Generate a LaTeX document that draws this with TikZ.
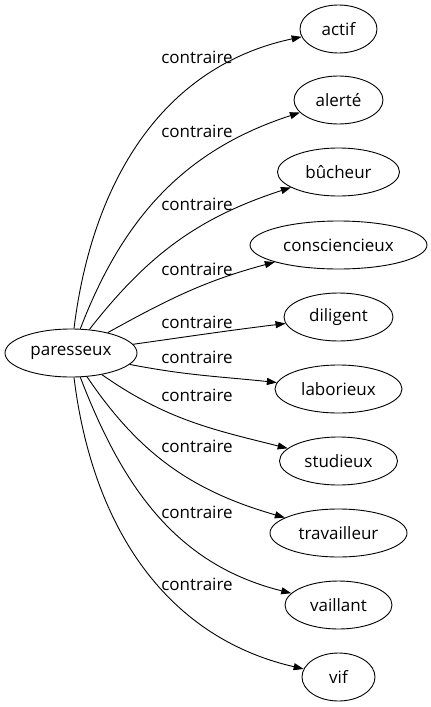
\documentclass[tikz,border=0pt]{standalone}
\usepackage{fontspec}
\setmainfont{Open Sans}
\usetikzlibrary{shapes.geometric,arrows.meta}

\begin{document}
\begin{tikzpicture}[x=1pt,y=1pt,
    mot/.style={draw,ellipse,line width=0.9pt,minimum height=48pt,
      inner xsep=2pt,font=\fontsize{17}{20}\selectfont},
    lien/.style={-{Triangle[length=10pt,width=7pt]},line width=0.9pt},
    rel/.style={inner sep=0pt,font=\fontsize{17}{20}\selectfont}]
  \useasboundingbox (0,0) rectangle (431,-707);
  \node[mot,minimum width=132pt] (paresseux) at (71,-353) {paresseux};
  % name/text/width/y/out/in/label y
  \foreach \n/\t/\w/\y/\o/\i/\ly in {actif/actif/77/29/83/192/57,
      alerte/alerté/89/100/69/198/131,
      bucheur/bûcheur/122/172/52/198/204,
      consciencieux/consciencieux/177/245/29/195/269,
      diligent/diligent/109/317/8/187/322,
      laborieux/laborieux/127/389/-11/174/357,
      studieux/studieux/118/461/-35/166/395,
      travailleur/travailleur/137/533/-56/164/446,
      vaillant/vaillant/107/605/-69/166/512,
      vif/vif/73/677/-83/167/584}
  {
    \node[mot,minimum width=\w pt] (\n) at (338.5,-\y) {\t};
    \draw[lien] (paresseux) to[out=\o,in=\i] (\n);
    \node[rel] (c\n) at (197,-\ly) {contraire};
  }
\end{tikzpicture}
\end{document}
